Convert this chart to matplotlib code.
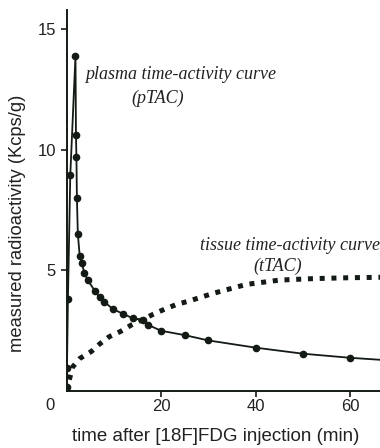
"""Plasma and tissue time-activity curves after [18F]FDG injection."""

import matplotlib

matplotlib.use("Agg")
import matplotlib.pyplot as plt

# plasma time-activity curve (pTAC), sampled points
ptac_time = [0.0, 0.1, 0.3, 0.8, 1.9, 2.0, 2.1, 2.2, 2.4, 2.8, 3.2, 3.8, 4.5,
             6.0, 7.0, 8.0, 9.8, 12.0, 14.0, 16.2, 17.2, 20.0, 25.0, 30.0,
             40.0, 50.0, 60.0, 70.0]
ptac_value = [0.15, 0.95, 3.8, 8.95, 13.9, 10.6, 9.7, 8.0, 6.5, 5.6, 5.3, 4.9,
              4.6, 4.15, 3.88, 3.7, 3.4, 3.2, 3.02, 2.95, 2.75, 2.5, 2.32, 2.1,
              1.8, 1.55, 1.38, 1.25]

# tissue time-activity curve (tTAC)
ttac_time = [0.0, 0.5, 1.3, 2.8, 5.3, 7.0, 9.0, 11.5, 13.8, 18.3, 20.8, 23.4,
             25.7, 31.0, 38.0, 45.0, 52.0, 60.0, 68.0]
ttac_value = [0.0, 0.4, 1.0, 1.35, 1.65, 1.95, 2.25, 2.48, 2.75, 3.18, 3.4,
              3.6, 3.72, 4.05, 4.42, 4.6, 4.66, 4.7, 4.72]

x_ticks = [20, 40, 60]
y_ticks = [5, 10, 15]

INK = "#141a14"
TEXT = "#222"

fig = plt.figure(figsize=(3.8, 4.48), dpi=100)
ax = fig.add_axes([0.175, 0.127, 0.825, 0.851])

ax.plot(ttac_time, ttac_value, color=INK, linewidth=3.6,
        dashes=(1, 1.35), dash_capstyle="butt")
ax.plot(ptac_time, ptac_value, color=INK, linewidth=1.3,
        marker="o", markersize=4.5)

ax.set_xlim(0, 66.3)
ax.set_ylim(0, 15.8)
ax.set_xticks(x_ticks)
ax.set_yticks(y_ticks)
ax.tick_params(labelsize=12, length=4, width=1.2, direction="out",
               colors=INK, labelcolor=TEXT)
ax.tick_params(axis="x", pad=1.5)
for side in ("top", "right"):
    ax.spines[side].set_visible(False)
for side in ("left", "bottom"):
    ax.spines[side].set_linewidth(1.4)
    ax.spines[side].set_color(INK)

sans = ["Liberation Sans", "DejaVu Sans"]
for lab in ax.get_xticklabels() + ax.get_yticklabels():
    lab.set_family(sans)

ax.set_xlabel("time after [18F]FDG injection (min)", family=sans,
              fontsize=13.5, color=TEXT, va="center")
ax.set_ylabel("measured radioactivity (Kcps/g)", family=sans,
              fontsize=13.2, color=TEXT, va="center")
ax.xaxis.set_label_coords(0.477, -0.12)
ax.yaxis.set_label_coords(-0.155, 0.44)
fig.text(50 / 380, 1 - 405 / 448, "0", family=sans, fontsize=12,
         color=TEXT, ha="center", va="center")

serif = ["Liberation Serif", "DejaVu Serif"]
note = dict(transform=ax.transAxes, family=serif, style="italic",
            fontsize=13, color=TEXT, va="center")
ax.text(0.365, 0.83, "plasma time-activity curve", ha="center", **note)
ax.text(0.292, 0.769, "(pTAC)", ha="center", **note)
ax.text(1.0, 0.383, "tissue time-activity curve", ha="right",
        clip_on=False, **note)
ax.text(0.675, 0.328, "(tTAC)", ha="center", **note)

fig.savefig("out.png", dpi=100)
